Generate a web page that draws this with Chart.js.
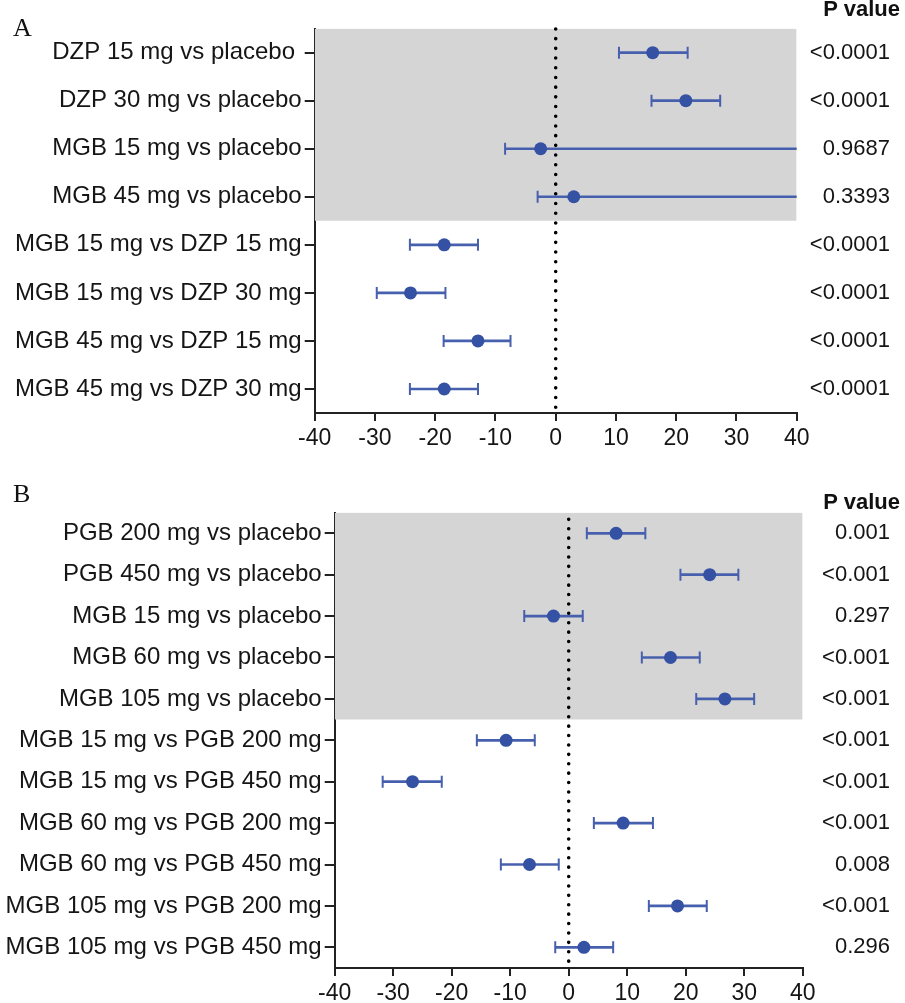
<!DOCTYPE html>
<html>
<head>
<meta charset="utf-8">
<script src="https://cdn.jsdelivr.net/npm/chart.js@4.4.1/dist/chart.umd.min.js"></script>
<style>
  body { margin: 0; width: 905px; height: 1003px; overflow: hidden; background: #fff; position: relative; }
  canvas { position: absolute; left: 0; }
  #chartA { top: 0; }
  #chartB { top: 470px; }
  .panel { position: absolute; left: 13px; font-family: "Liberation Serif", "Times New Roman", serif; font-size: 26px; line-height: 26px; color: #111; }
  .ptitle { position: absolute; right: 5px; font-family: "Liberation Sans", Arial, sans-serif; font-weight: bold; font-size: 22px; line-height: 22px; color: #111; }
</style>
</head>
<body>
<canvas id="chartA" width="905" height="460"></canvas>
<canvas id="chartB" width="905" height="545"></canvas>
<div class="panel" style="top:15px">A</div>
<div class="panel" style="top:481px">B</div>
<div class="ptitle" style="top:-2px">P value</div>
<div class="ptitle" style="top:491px">P value</div>
<script>
// panel A: diazepam / mirogabalin
const labelsA = ['DZP 15 mg vs placebo ', 'DZP 30 mg vs placebo', 'MGB 15 mg vs placebo', 'MGB 45 mg vs placebo',
  'MGB 15 mg vs DZP 15 mg', 'MGB 15 mg vs DZP 30 mg', 'MGB 45 mg vs DZP 15 mg', 'MGB 45 mg vs DZP 30 mg'];
const estA = [16.1, 21.6, -2.5, 3.0, -18.5, -24.1, -12.9, -18.5];
const lowA = [10.5, 15.9, -8.4, -3.0, -24.2, -29.7, -18.6, -24.2];
const highA = [21.9, 27.3, 45, 45, -12.9, -18.3, -7.5, -12.9]; // two CIs run off the axis
const pA = ['<0.0001', '<0.0001', '0.9687', '0.3393', '<0.0001', '<0.0001', '<0.0001', '<0.0001'];
const shadedA = 4;

// panel B: pregabalin / mirogabalin
const labelsB = ['PGB 200 mg vs placebo', 'PGB 450 mg vs placebo', 'MGB 15 mg vs placebo', 'MGB 60 mg vs placebo',
  'MGB 105 mg vs placebo', 'MGB 15 mg vs PGB 200 mg', 'MGB 15 mg vs PGB 450 mg', 'MGB 60 mg vs PGB 200 mg',
  'MGB 60 mg vs PGB 450 mg', 'MGB 105 mg vs PGB 200 mg', 'MGB 105 mg vs PGB 450 mg'];
const estB = [8.1, 24.1, -2.6, 17.4, 26.7, -10.7, -26.7, 9.3, -6.7, 18.6, 2.6];
const lowB = [3.1, 19.1, -7.6, 12.5, 21.8, -15.7, -31.8, 4.3, -11.6, 13.7, -2.3];
const highB = [13.1, 29.0, 2.4, 22.4, 31.7, -5.8, -21.7, 14.4, -1.7, 23.6, 7.6];
const pB = ['0.001', '<0.001', '0.297', '<0.001', '<0.001', '<0.001', '<0.001', '<0.001', '0.008', '<0.001', '0.296'];
const shadedB = 5;

const xTicks = { min: -40, max: 40, step: 10 };

const blue = '#3451a3';
const whiskerColor = '#4760ad';
const shade = '#d5d5d5';
const ink = '#151515';

Chart.defaults.font.family = '"Liberation Sans", Arial, sans-serif';

function forest(id, labels, est, low, high, pvals, nShaded, box) {
  const rows = labels.length;
  const caps = low.map((v, i) => ({ x: v, y: labels[i] }))
    .concat(high.map((v, i) => ({ x: v, y: labels[i] })));

  return new Chart(document.getElementById(id), {
    data: {
      labels: labels,
      datasets: [
        // grey band behind the "vs placebo" rows
        {
          type: 'line', yAxisID: 'yl',
          data: [{ x: xTicks.min, y: 1 }, { x: xTicks.max, y: 1 }],
          borderColor: 'rgba(0,0,0,0)', borderWidth: 0, pointRadius: 0,
          fill: { value: 1 - nShaded / rows }, backgroundColor: shade,
          order: 4, clip: 0
        },
        // dotted zero line
        {
          type: 'line', yAxisID: 'yl',
          data: [{ x: 0, y: 0.015 }, { x: 0, y: 1 }],
          borderColor: '#000', borderWidth: 3.6, borderDash: [0, box.dot], borderCapStyle: 'round',
          pointRadius: 0, fill: false, order: 3, clip: 6
        },
        // CI whiskers
        {
          type: 'bar', indexAxis: 'y',
          data: low.map((v, i) => [v, high[i]]),
          backgroundColor: whiskerColor, barThickness: 2, borderWidth: 0,
          order: 2, clip: 0
        },
        // whisker caps
        {
          type: 'scatter', data: caps,
          pointStyle: 'line', rotation: 90, pointRadius: 6,
          borderColor: whiskerColor, borderWidth: 2, order: 1, clip: 0
        },
        // estimates
        {
          type: 'scatter',
          data: est.map((v, i) => ({ x: v, y: labels[i] })),
          pointRadius: 6.5, backgroundColor: blue, borderWidth: 0, order: 0, clip: 0
        }
      ]
    },
    options: {
      responsive: false,
      animation: false,
      devicePixelRatio: 1,
      layout: { padding: { top: box.top, left: 0, right: 15, bottom: 0 } },
      plugins: { legend: { display: false }, tooltip: { enabled: false } },
      scales: {
        x: {
          type: 'linear', min: xTicks.min, max: xTicks.max,
          ticks: { stepSize: xTicks.step, color: ink, font: { size: 23 }, padding: 4 },
          grid: { drawOnChartArea: false, drawTicks: true, tickLength: 8, color: '#222', lineWidth: 2 },
          border: { color: '#222', width: 2 },
          afterFit: s => { s.height = box.xh; }
        },
        y: {
          type: 'category', position: 'left', offset: true,
          ticks: { color: ink, font: { size: 24 }, padding: 3, autoSkip: false },
          grid: { offset: false, drawOnChartArea: false, drawTicks: true, tickLength: 10, color: '#222', lineWidth: 2 },
          border: { color: '#222', width: 2 },
          afterFit: s => { s.width = box.left; }
        },
        p: {
          type: 'category', axis: 'y', labels: pvals, position: 'right', offset: true,
          grid: { display: false, drawTicks: false },
          border: { display: false },
          ticks: { crossAlign: 'far', padding: 10, color: ink, font: { size: 22 }, autoSkip: false },
          afterFit: s => { s.width = box.right; }
        },
        yl: { type: 'linear', axis: 'y', min: 0, max: 1, display: false }
      }
    }
  });
}

forest('chartA', labelsA, estA, lowA, highA, pA, shadedA,
  { top: 28.6, left: 314.7, right: 93.3, xh: 47, dot: 9.7 });
forest('chartB', labelsB, estB, lowB, highB, pB, shadedB,
  { top: 42.6, left: 334.7, right: 87.3, xh: 47, dot: 9.4 });
</script>
</body>
</html>
